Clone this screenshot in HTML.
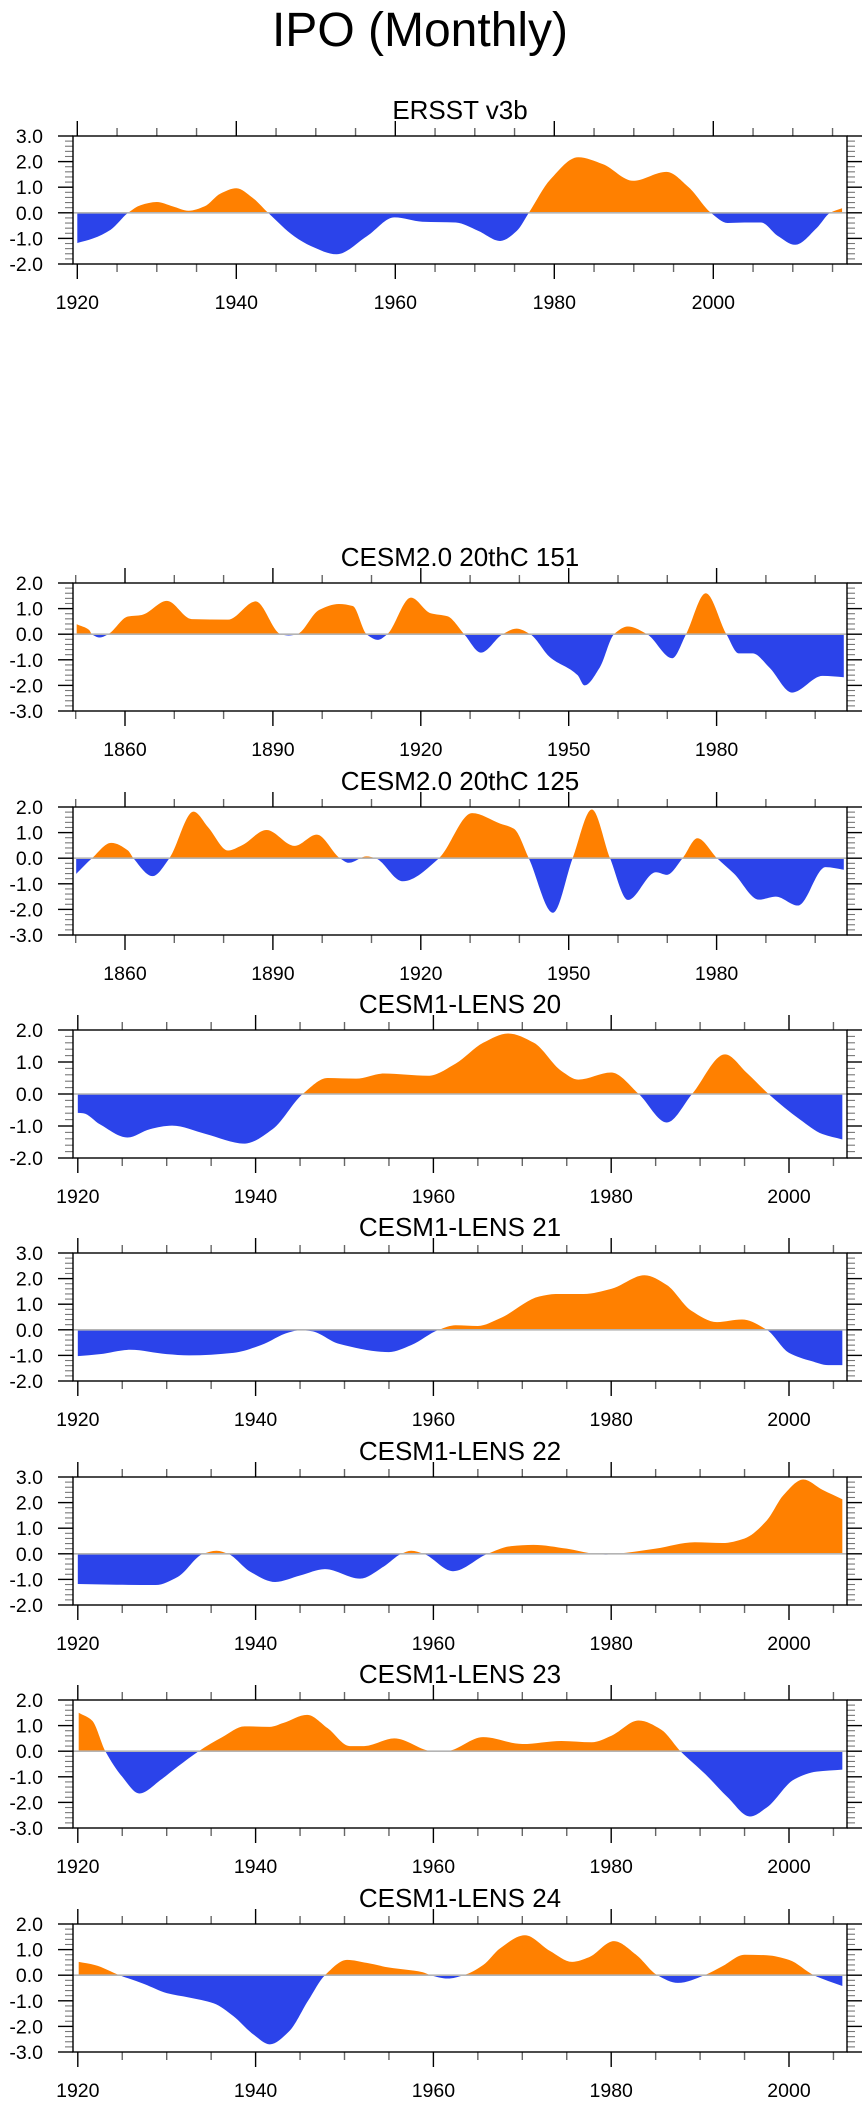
<!DOCTYPE html>
<html>
<head>
<meta charset="utf-8">
<style>
html,body{margin:0;padding:0;background:#fff;}
svg{display:block;font-family:"Liberation Sans",Arial,sans-serif;}
</style>
</head>
<body>
<svg id="chart" width="867" height="2107" viewBox="0 0 867 2107" xmlns="http://www.w3.org/2000/svg">
<text x="420" y="46" font-size="48" text-anchor="middle" fill="#000">IPO (Monthly)</text>
</svg>
<script>
// ---------- data ----------
const ersstYears = [1920,1922,1924.2,1926.4,1928,1930,1932,1934,1936,1938,1940,1942,1944,1947.3,1949.4,1952.6,1956.4,1959.9,1963.4,1967.6,1970.4,1973.2,1975.3,1976.8,1979.5,1983,1986.1,1989.9,1994.1,1996.9,1999.7,2001.8,2003.9,2006,2008.1,2010.3,2013,2014.7,2016.2];
const ersstValues = [-1.18,-1.0,-0.66,0,0.3,0.42,0.25,0.08,0.25,0.75,0.96,0.6,0,-0.92,-1.3,-1.62,-0.92,-0.18,-0.35,-0.38,-0.7,-1.1,-0.7,0,1.3,2.17,1.9,1.25,1.6,1.0,0,-0.4,-0.38,-0.38,-0.9,-1.25,-0.6,0,0.18];

const c151Years = [1850.2,1852.7,1853.3,1854.9,1856.6,1860.6,1863.4,1868.5,1873.5,1880.9,1886.5,1891.6,1893.2,1894.9,1899.4,1903.4,1906.2,1909,1911.3,1913.2,1918,1922,1925.4,1928.8,1932.2,1936.6,1939.4,1942.2,1946.2,1951.8,1953.2,1956.3,1959.2,1962,1965.9,1971,1973.8,1977.8,1982,1984.5,1987.3,1990.7,1995.3,2001.5,2005.8];
const c151Values = [0.39,0.17,0,-0.13,0,0.69,0.75,1.3,0.59,0.57,1.28,0,-0.05,0,0.95,1.18,1.1,0,-0.22,0,1.43,0.82,0.7,0,-0.72,0,0.22,0,-0.9,-1.6,-2.0,-1.3,0,0.3,0,-0.94,0,1.6,0,-0.75,-0.75,-1.3,-2.28,-1.63,-1.68];

const c125Years = [1850.1,1853.3,1857.2,1860.6,1861.7,1865.6,1869,1873.9,1876.9,1880.9,1883.7,1888.7,1894.4,1898.9,1903.6,1905.4,1909,1910.8,1916.3,1923.7,1930.4,1936.1,1938.9,1941.9,1946.8,1950.8,1954.7,1958.4,1962,1967.7,1969.9,1973.1,1976.1,1980.1,1983.5,1988.6,1992,1996.5,2002.1,2005.8];
const c125Values = [-0.61,0,0.6,0.3,0,-0.7,0,1.82,1.2,0.3,0.5,1.1,0.48,0.92,0,-0.18,0.07,0,-0.9,0,1.76,1.35,1.15,0,-2.13,0,1.9,0,-1.63,-0.55,-0.65,0,0.78,0,-0.6,-1.62,-1.5,-1.85,-0.35,-0.45];

const l20Years = [1920,1920.6,1922.5,1925.6,1928.1,1930.6,1934.4,1938.75,1941.9,1945.3,1948.1,1951.3,1954.4,1959.4,1962.5,1965.6,1968.4,1971.3,1974.4,1976.3,1980,1983.1,1986.25,1989.1,1992.8,1995.3,1997.7,2001.25,2003.75,2006];
const l20Values = [-0.59,-0.6,-0.95,-1.36,-1.1,-0.99,-1.25,-1.55,-1.1,0,0.5,0.48,0.64,0.57,0.95,1.6,1.89,1.6,0.72,0.45,0.67,0,-0.89,0,1.24,0.65,0,-0.8,-1.25,-1.42];

const l21Years = [1920,1922.5,1925.9,1930,1932.5,1937.5,1940.6,1943.75,1945,1946.25,1949.4,1955,1957.5,1960.6,1962.5,1965,1967.5,1971.9,1973.75,1976.9,1980,1983.75,1986.25,1989,1991.9,1994.7,1997.5,2000,2002.5,2004.4,2006];
const l21Values = [-1.03,-0.95,-0.78,-0.95,-1.0,-0.9,-0.6,-0.1,-0.02,-0.05,-0.55,-0.87,-0.6,0,0.18,0.15,0.45,1.3,1.4,1.4,1.6,2.13,1.75,0.75,0.3,0.4,0,-0.9,-1.22,-1.38,-1.38];

const l22Years = [1920,1924.4,1928.75,1931.25,1934.1,1935.6,1936.9,1939.4,1942.2,1945,1947.8,1951.75,1954.4,1956.4,1957.5,1958.9,1962.2,1966.1,1968.75,1971.25,1975,1978.1,1979.4,1980.6,1985,1989.4,1992.5,1995,1997.5,1999.4,2001.6,2003.75,2006];
const l22Values = [-1.18,-1.21,-1.22,-0.9,0,0.12,0,-0.7,-1.1,-0.85,-0.6,-0.97,-0.5,0,0.12,0,-0.68,0,0.3,0.35,0.2,0,-0.03,0,0.2,0.45,0.42,0.6,1.3,2.3,2.9,2.5,2.13];

const l23Years = [1920.1,1921.6,1923.1,1925,1926.9,1929.4,1931.25,1933.6,1936.25,1938.75,1941.6,1943.1,1945.8,1948.1,1950.6,1952.2,1955.6,1959.7,1960.6,1961.6,1965.6,1970,1974.4,1977.8,1980,1983.1,1985.6,1987.8,1990.6,1993.1,1995.6,1997.5,2000.6,2003.1,2006];
const l23Values = [1.5,1.2,0,-1.0,-1.65,-1.1,-0.6,0,0.55,0.97,0.95,1.1,1.42,0.9,0.2,0.2,0.5,0,-0.03,0,0.55,0.28,0.4,0.35,0.6,1.2,0.85,0,-0.9,-1.8,-2.55,-2.2,-1.1,-0.8,-0.72];

const l24Years = [1920.1,1921.9,1924.7,1927.5,1930,1932.5,1935.3,1937.5,1939.7,1941.6,1943.75,1945.9,1947.8,1950.3,1952.5,1955,1958.75,1959.7,1961.6,1963.4,1965.6,1967.5,1970.3,1973.1,1975.6,1977.5,1980.3,1982.8,1985.2,1987.5,1990.5,1992.5,1995,1997.5,2000,2002.8,2006];
const l24Values = [0.52,0.4,0,-0.35,-0.7,-0.87,-1.1,-1.6,-2.3,-2.7,-2.2,-1.0,0,0.6,0.48,0.3,0.12,0,-0.13,0,0.4,1.05,1.56,0.95,0.52,0.7,1.33,0.8,0,-0.3,0,0.35,0.8,0.78,0.6,0,-0.42];

const panelTitles = ["ERSST v3b","CESM2.0 20thC 151","CESM2.0 20thC 125","CESM1-LENS 20","CESM1-LENS 21","CESM1-LENS 22","CESM1-LENS 23","CESM1-LENS 24"];
const yRangesMin = [-2,-3,-3,-2,-2,-2,-3,-3];
const yRangesMax = [3,2,2,2,3,3,2,2];
const seriesYears = [ersstYears,c151Years,c125Years,l20Years,l21Years,l22Years,l23Years,l24Years];
const seriesValues = [ersstValues,c151Values,c125Values,l20Values,l21Values,l22Values,l23Values,l24Values];
const ersstMajorTicks = [1920,1940,1960,1980,2000];
const cesm2MajorTicks = [1860,1890,1920,1950,1980];
const lensMajorTicks = [1920,1940,1960,1980,2000];

// ---------- layout ----------
const NS = "http://www.w3.org/2000/svg";
const svg = document.getElementById('chart');
const L = 73, R = 847, H = 128;
const panelTops = [136,583,807,1030,1253,1477,1700,1924];
const axisKinds = ['ersst','cesm2','cesm2','lens','lens','lens','lens','lens'];
const axes = {
  ersst: {x0:77.3, y0:1920, k:7.95, major:ersstMajorTicks, minStart:1920, minStep:5, minEnd:2015},
  cesm2: {x0:125, y0:1860, k:4.93, major:cesm2MajorTicks, minStart:1850, minStep:10, minEnd:2000},
  lens:  {x0:77.8, y0:1920, k:8.89, major:lensMajorTicks, minStart:1920, minStep:5, minEnd:2005}
};

function mk(tag, attrs, parent){
  const e = document.createElementNS(NS, tag);
  for (const k in attrs) e.setAttribute(k, attrs[k]);
  (parent||svg).appendChild(e);
  return e;
}

function monotonePath(xs, ys){
  const n = xs.length;
  if (n < 2) return '';
  const d = [], m = new Array(n);
  for (let i=0;i<n-1;i++) d.push((ys[i+1]-ys[i])/(xs[i+1]-xs[i]));
  m[0] = d[0]; m[n-1] = d[n-2];
  for (let i=1;i<n-1;i++){
    if (d[i-1]*d[i] <= 0) m[i] = 0;
    else {
      const h0 = xs[i]-xs[i-1], h1 = xs[i+1]-xs[i];
      const w1 = 2*h1+h0, w2 = h1+2*h0;
      m[i] = (w1+w2)/(w1/d[i-1]+w2/d[i]);
    }
  }
  let p = 'M'+xs[0].toFixed(2)+','+ys[0].toFixed(2);
  for (let i=0;i<n-1;i++){
    const h = (xs[i+1]-xs[i])/3;
    p += ' C'+(xs[i]+h).toFixed(2)+','+(ys[i]+m[i]*h).toFixed(2)+' '+(xs[i+1]-h).toFixed(2)+','+(ys[i+1]-m[i+1]*h).toFixed(2)+' '+xs[i+1].toFixed(2)+','+ys[i+1].toFixed(2);
  }
  return p;
}

const defs = mk('defs', {});

for (let p=0;p<8;p++){
  const top = panelTops[p], bot = top+H;
  const ax = axes[axisKinds[p]];
  const ymin = yRangesMin[p], ymax = yRangesMax[p];
  const xs = yr => ax.x0 + (yr-ax.y0)*ax.k;
  const ys = v => bot - (v-ymin)/(ymax-ymin)*H;
  const zeroY = ys(0);

  const g = mk('g', {});
  
  

  const title = mk('text', {x:460, y:top-17, 'font-size':26, 'text-anchor':'middle', fill:'#000'}, g);
  
  
  title.textContent = panelTitles[p];

  const cu = mk('clipPath', {id:'cu'+p}, defs);
  mk('rect', {x:L, y:top, width:R-L, height:zeroY-top}, cu);
  const cd = mk('clipPath', {id:'cd'+p}, defs);
  mk('rect', {x:L, y:zeroY, width:R-L, height:bot-zeroY}, cd);

  const px = seriesYears[p].map(xs), py = seriesValues[p].map(ys);
  const area = monotonePath(px, py) + ' L'+px[px.length-1].toFixed(2)+','+zeroY.toFixed(2)+' L'+px[0].toFixed(2)+','+zeroY.toFixed(2)+' Z';
  const pos = mk('path', {d:area, fill:'#ff8000', 'clip-path':'url(#cu'+p+')'}, g);
  
  
  const neg = mk('path', {d:area, fill:'#2b43ea', 'clip-path':'url(#cd'+p+')'}, g);
  
  

  const zl = mk('line', {x1:L, x2:R, y1:zeroY, y2:zeroY, stroke:'#b4b4b4', 'stroke-width':1.6}, g);
  
  

  for (let v=ymin; v<=ymax+1e-6; v+=0.2){
    const yy = ys(v);
    const major = Math.abs(v-Math.round(v))<1e-6;
    const len = major?15:8;
    const col = major?'#000':'#777';
    mk('line', {x1:L-len, x2:L, y1:yy, y2:yy, stroke:col, 'stroke-width':major?1.4:1.1}, g);
    mk('line', {x1:R, x2:R+len, y1:yy, y2:yy, stroke:col, 'stroke-width':major?1.4:1.1}, g);
    if (major){
      const t = mk('text', {x:43, y:yy+7, 'font-size':19.5, 'text-anchor':'end', fill:'#000'}, g);
      
      
      t.textContent = Math.round(v).toFixed(1);
    }
  }
  for (let yr=ax.minStart; yr<=ax.minEnd; yr+=ax.minStep){
    const xx = xs(yr);
    if (xx < L-0.5 || xx > R+0.5) continue;
    const major = ax.major.indexOf(yr) >= 0;
    const len = major?15:8;
    const col = major?'#000':'#666';
    mk('line', {x1:xx, x2:xx, y1:top-len, y2:top, stroke:col, 'stroke-width':1.4}, g);
    mk('line', {x1:xx, x2:xx, y1:bot, y2:bot+len, stroke:col, 'stroke-width':1.4}, g);
  }
  ax.major.forEach(yr => {
    const t = mk('text', {x:xs(yr), y:bot+45, 'font-size':19.5, 'text-anchor':'middle', fill:'#000'}, g);
    
    
    t.textContent = yr;
  });

  const fr = mk('rect', {x:L, y:top, width:R-L, height:H, fill:'none', stroke:'#000', 'stroke-width':1.4}, g);
  
  
}
</script>
</body>
</html>
